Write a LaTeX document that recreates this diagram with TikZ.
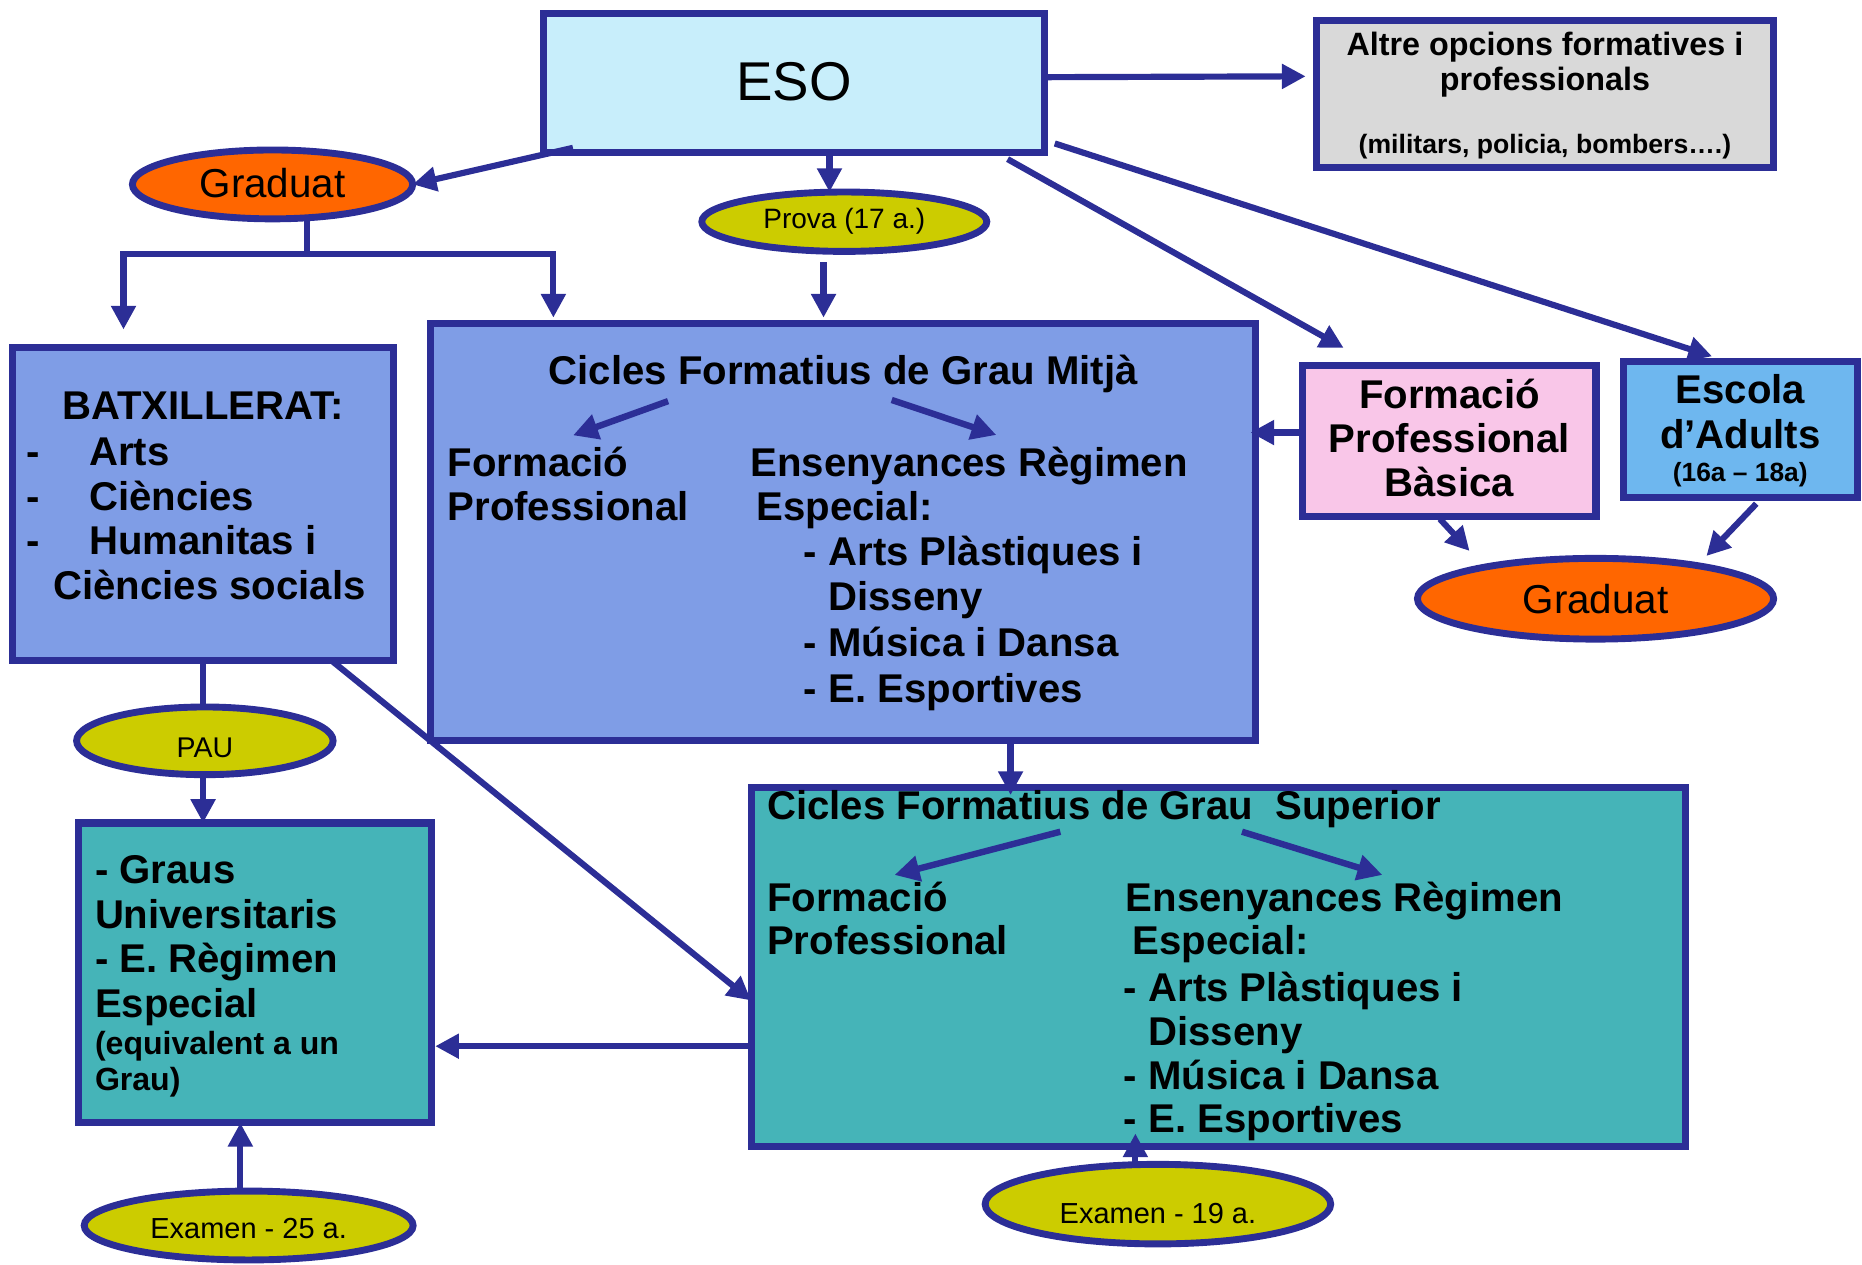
\documentclass[tikz,border=0pt]{standalone}
\usepackage{fontspec}
\setmainfont{Liberation Sans}
\usetikzlibrary{arrows.meta,shapes.geometric}
\definecolor{bcol}{RGB}{44,46,150}
\definecolor{esocol}{RGB}{200,238,251}
\definecolor{graycol}{RGB}{217,217,217}
\definecolor{medcol}{RGB}{127,157,230}
\definecolor{pinkcol}{RGB}{249,198,232}
\definecolor{adultcol}{RGB}{110,183,239}
\definecolor{orangecol}{RGB}{255,102,0}
\definecolor{yelcol}{RGB}{204,204,0}
\definecolor{tealcol}{RGB}{69,180,184}
\begin{document}
\begin{tikzpicture}[x=0.5pt,y=-0.5pt,
  box/.style={draw=bcol,line width=3pt,rectangle,inner sep=0pt,outer sep=0pt},
  ell/.style={draw=bcol,line width=2.9pt,ellipse,inner sep=0pt,outer sep=0pt},
  arr/.style={draw=bcol,line width=2.6pt,-{Triangle[length=10pt,width=10pt]}},
  ln/.style={draw=bcol,line width=2.6pt},
  inarr/.style={draw=bcol,line width=2.7pt,-{Triangle[length=10.5pt,width=10.5pt]}},
  txt/.style={inner sep=0pt,outer sep=0pt,anchor=base west,align=left,text=black},
  ctxt/.style={inner sep=0pt,outer sep=0pt,anchor=base,align=center,text=black},
  big/.style={font=\fontsize{16.9}{19}\selectfont\bfseries},
]
\useasboundingbox (0,0) rectangle (1568,1065);

% ---------- boxes ----------
\node[box,fill=esocol,minimum width=211pt,minimum height=58.5pt] (eso) at (668.5,70) {};
\node[box,fill=graycol,minimum width=192.5pt,minimum height=61.75pt] (altre) at (1301,79.25) {};
\node[box,fill=medcol,minimum width=347.5pt,minimum height=175.5pt] (cfgm) at (710,448) {};
\node[box,fill=medcol,minimum width=160.5pt,minimum height=132pt] (batx) at (171,424.5) {};
\node[box,fill=pinkcol,minimum width=123.5pt,minimum height=63.75pt] (fpb) at (1220.5,371.25) {};
\node[box,fill=adultcol,minimum width=98.25pt,minimum height=57.25pt] (escola) at (1465.75,361.75) {};
\node[box,fill=tealcol,minimum width=148.75pt,minimum height=126.25pt] (graus) at (214.75,819.25) {};
\node[box,fill=tealcol,minimum width=393.25pt,minimum height=151pt] (cfgs) at (1025.75,814.5) {};

% ---------- ellipses ----------
\node[ell,fill=orangecol,minimum width=118pt,minimum height=29pt,font=\fontsize{17}{19}\selectfont,text height=10.6pt,text depth=0pt] (gradL) at (229.5,155.3) {Graduat\hspace{8pt}};
\node[ell,fill=yelcol,minimum width=120pt,minimum height=25pt,font=\fontsize{11.8}{13}\selectfont] (prova) at (711,186.7) {Prova (17 a.)};
\node[ell,fill=orangecol,minimum width=150pt,minimum height=34pt,font=\fontsize{17}{19}\selectfont] (gradR) at (1343.6,504.2) {Graduat};
\node[ell,fill=yelcol,minimum width=108pt,minimum height=28.5pt,font=\fontsize{12}{13}\selectfont,text height=14pt,text depth=0pt] (pau) at (172.5,623.85) {PAU\hspace{6pt}};
\node[ell,fill=yelcol,minimum width=138.5pt,minimum height=29pt,font=\fontsize{12.2}{13}\selectfont,text height=10.6pt,text depth=0pt] (ex25) at (209.4,1032) {Examen - 25 a.};
\node[ell,fill=yelcol,minimum width=145.5pt,minimum height=33.5pt,font=\fontsize{12.2}{13}\selectfont,text height=16pt,text depth=0pt] (ex19) at (975.1,1014) {Examen - 19 a.};

% ---------- texts (multi-line nodes: base = last line) ----------
\node[ctxt,font=\fontsize{23}{26}\selectfont] (esot) at (668.5,85) {ESO};
\node[ctxt,font=\fontsize{13.6}{14.7}\selectfont\bfseries] (altret) at (1301,76.2) {Altre opcions formatives i\\professionals};
\node[ctxt,font=\fontsize{11.2}{13}\selectfont\bfseries] (altres) at (1301,129.4) {(militars, policia, bombers….)};

\node[ctxt,big] (gmt) at (710,324) {Cicles Formatius de Grau Mitjà};
\node[txt,font=\fontsize{16.9}{18.5}\selectfont\bfseries] (gmfp) at (377,438) {Formació\\Professional};
\node[txt,font=\fontsize{16.9}{18.5}\selectfont\bfseries] (gmer) at (632,438) {Ensenyances Règimen\\\hspace{2.5pt}Especial:};
\node[txt,font=\fontsize{16.9}{19.2}\selectfont\bfseries] (gmls) at (677,591.2) {- Arts Plàstiques i\\\phantom{- }Disseny\\- Música i Dansa\\- E. Esportives};

\node[ctxt,big] (bxt) at (171,353) {BATXILLERAT:};
\node[txt,font=\fontsize{16.9}{18.75}\selectfont\bfseries] (bxd) at (22,467) {-\\-\\-};
\node[txt,font=\fontsize{16.9}{18.75}\selectfont\bfseries] (bxl) at (75,504.5) {Arts\\Ciències\\Humanitas i\\\hspace{-15pt}Ciències socials};

\node[ctxt,font=\fontsize{16.9}{18.6}\selectfont\bfseries] (fpbt) at (1220.5,418) {Formació\\Professional\\Bàsica};
\node[ctxt,font=\fontsize{16.9}{18.75}\selectfont\bfseries] (esct) at (1465.5,377.5) {Escola\\d’Adults};
\node[ctxt,font=\fontsize{11.1}{13}\selectfont\bfseries] (escs) at (1465.5,405.8) {(16a – 18a)};

\node[txt,font=\fontsize{16.9}{18.9}\selectfont\bfseries] (grt) at (80,857.1) {- Graus\\Universitaris\\- E. Règimen\\Especial};
\node[txt,font=\fontsize{13.5}{14.8}\selectfont\bfseries] (grs) at (80,918) {(equivalent a un\\Grau)};

\node[txt,big] (gst) at (646,690.5) {Cicles Formatius de Grau\ \ Superior};
\node[txt,font=\fontsize{16.9}{18.2}\selectfont\bfseries] (gsfp) at (646,804) {Formació\\Professional};
\node[txt,font=\fontsize{16.9}{18.2}\selectfont\bfseries] (gser) at (948,804) {Ensenyances Règimen\\\hspace{2.8pt}Especial:};
\node[txt,font=\fontsize{16.9}{18.4}\selectfont\bfseries] (gsls) at (946.5,953.9) {- Arts Plàstiques i\\\phantom{- }Disseny\\- Música i Dansa\\- E. Esportives};

% ---------- connectors ----------
\draw[arr,shorten >=4.5pt] ([yshift=2.5pt]eso.east) -- ([yshift=7.5pt]altre.west);
\draw[arr] ([xshift=12.5pt,yshift=2pt]eso.south west) -- (gradL.east);
\coordinate (br) at (258.5,214);
\coordinate (bl) at (104,214);
\coordinate (brr) at (466,214);
\draw[ln] ([xshift=14.5pt]gradL.south) -- (br);
\draw[arr] (br) -| ([yshift=7.5pt]batx.north -| bl);
\draw[arr] (br) -| ([yshift=2.5pt]cfgm.north -| brr);
\draw[arr] ([xshift=15pt]eso.south) -- ([xshift=15pt]eso.south |- prova.north);
\draw[arr,shorten <=4.5pt,shorten >=2.5pt] ([xshift=-8.75pt]prova.south) -- ([xshift=-8.75pt]prova.south |- cfgm.north);
\draw[arr] ([xshift=-15.5pt,yshift=-2.75pt]eso.south east) -- ([xshift=17.25pt,yshift=7.25pt]fpb.north west);
\draw[arr] ([xshift=4.35pt,yshift=3.85pt]eso.south east) -- ([xshift=-12pt,yshift=2.2pt]escola.north);
\draw[arr] ([yshift=3.5pt]fpb.west) -- ++(-44,0);
\draw[arr] ([xshift=-4pt,yshift=-1pt]fpb.south) -- ++(25,27);
\draw[arr] ([xshift=6.6pt,yshift=-2.6pt]escola.south) -- ++(-42,44);
\draw[ln] (batx.south) -- (batx.south |- pau.north);
\draw[arr] (batx.south |- pau.south) -- (batx.south |- graus.north);
\draw[arr] ([xshift=-26pt]batx.south east) -- ([yshift=-14pt]cfgs.west);
\draw[arr,shorten >=-3pt] ([xshift=70.5pt]cfgm.south) -- ([xshift=70.5pt]cfgm.south |- cfgs.north);
\draw[arr,shorten >=1.5pt] ([yshift=-33.25pt]cfgs.west) -- ([yshift=-33.25pt]cfgs.west -| graus.east);
\draw[arr] ([xshift=-3.5pt]ex25.north) -- ([xshift=-3.5pt]ex25.north |- graus.south);
\draw[arr,shorten >=-5.5pt] ([xshift=-9.5pt]ex19.north) -- ([xshift=-9.5pt]ex19.north |- cfgs.south);

% inner arrows
\coordinate (gmA) at (562.6,337.8);
\coordinate (gmB) at (482.6,366.6);
\coordinate (gmC) at (750.9,336.8);
\coordinate (gmD) at (839,366.3);
\coordinate (gsA) at (892.9,700.4);
\coordinate (gsB) at (753.3,736.8);
\coordinate (gsC) at (1045.9,700.4);
\coordinate (gsD) at (1164.1,736.8);
\draw[inarr] (gmA) -- (gmB);
\draw[inarr] (gmC) -- (gmD);
\draw[inarr] (gsA) -- (gsB);
\draw[inarr] (gsC) -- (gsD);
\end{tikzpicture}
\end{document}
